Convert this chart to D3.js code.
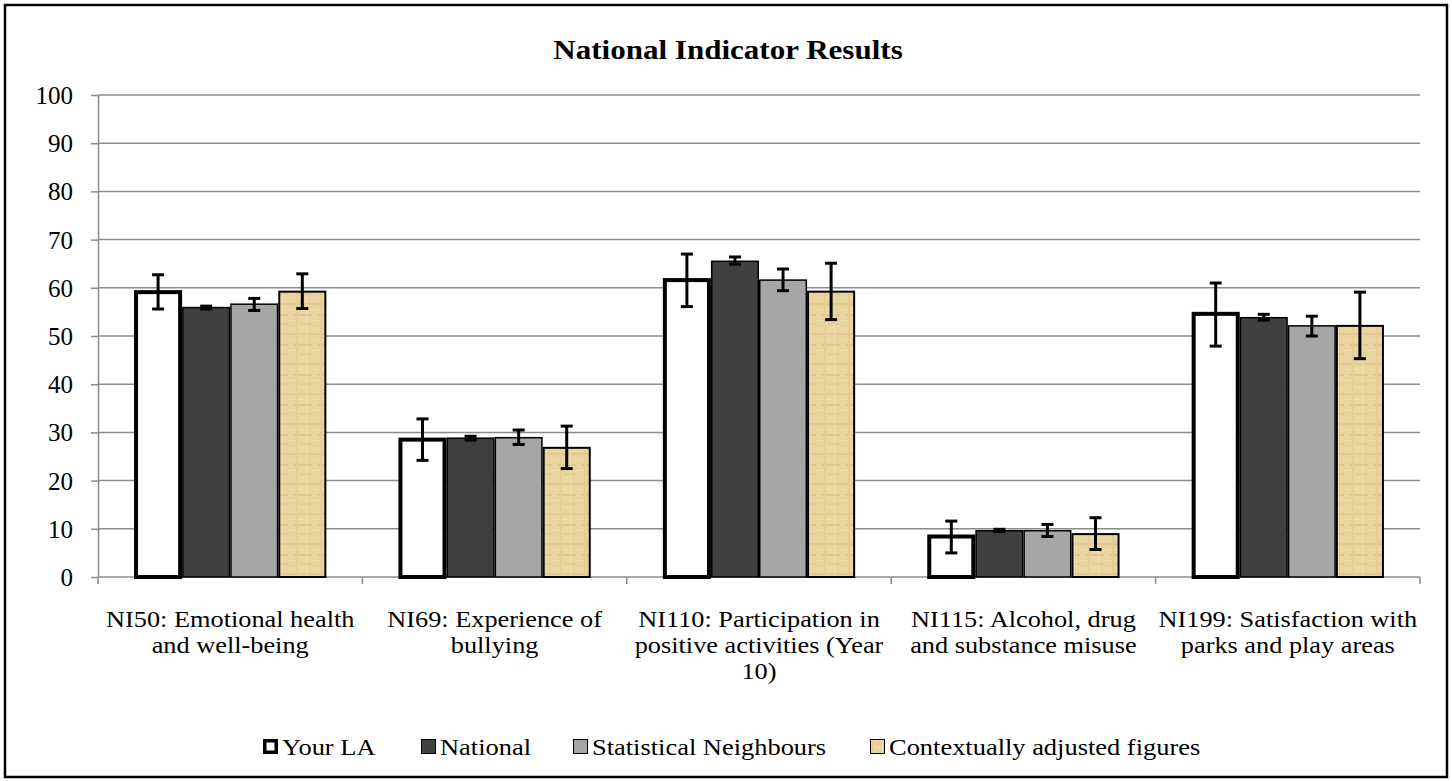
<!DOCTYPE html>
<html>
<head>
<meta charset="UTF-8">
<title>National Indicator Results</title>
<style>
    body { margin: 0; padding: 0; background: #fff; }
    svg { display: block; font-family: 'Liberation Serif', 'Times New Roman', serif; }
    .grid line { stroke: #8c8c8c; stroke-width: 1.5px; }
    .axis path, .axis line { stroke: #8c8c8c; stroke-width: 1.5px; }
</style>
</head>
<body>
<svg></svg>
<script src="https://cdn.jsdelivr.net/npm/d3@7"></script>
<script>

// chart data
let categories = [
    ["NI50: Emotional health", "and well-being"],
    ["NI69: Experience of", "bullying"],
    ["NI110: Participation in", "positive activities (Year", "10)"],
    ["NI115: Alcohol, drug", "and substance misuse"],
    ["NI199: Satisfaction with", "parks and play areas"]
];
let seriesNames = ["Your LA", "National", "Statistical Neighbours", "Contextually adjusted figures"];
let yourLA     = [59.1, 28.5, 61.6, 8.4, 54.6];
let national   = [55.9, 28.8, 65.5, 9.6, 53.8];
let statNeigh  = [56.6, 28.9, 61.6, 9.6, 52.1];
let contextual = [59.2, 26.8, 59.2, 8.9, 52.1];
// error bar ranges [low, high]
let yourLAErr     = [[55.6, 62.7], [24.2, 32.8], [56.1, 67.0], [5.0, 11.6], [47.9, 61.0]];
let nationalErr   = [[55.6, 56.2], [28.4, 29.2], [64.9, 66.4], [9.4, 9.9], [53.3, 54.5]];
let statNeighErr  = [[55.3, 57.8], [27.5, 30.5], [59.4, 63.9], [8.4, 10.9], [50.0, 54.1]];
let contextualErr = [[55.7, 62.9], [22.5, 31.3], [53.4, 65.1], [5.7, 12.3], [45.3, 59.1]];
let yTicks = [0, 10, 20, 30, 40, 50, 60, 70, 80, 90, 100];

let w = 1452, h = 781;
let plot = {left: 98, right: 1420, top: 95, bottom: 577};

let svg = d3.select("svg").attr("width", w).attr("height", h);

// tan texture for the last series
let defs = svg.append("defs");
let pat = defs.append("pattern")
    .attr("id", "tan")
    .attr("patternUnits", "userSpaceOnUse")
    .attr("width", 24).attr("height", 30);
pat.append("rect").attr("width", 24).attr("height", 30).attr("fill", "#eAd4a0");
[[0, 3, 24, 2, "#e2c98e"], [2, 9, 14, 1, "#f1dfb2"], [6, 14, 18, 2, "#e0c68a"],
 [0, 20, 10, 1, "#f0ddb0"], [12, 23, 12, 2, "#e4cb92"], [3, 27, 16, 1, "#efdcae"],
 [8, 0, 2, 30, "#e5cd95"], [18, 0, 1, 30, "#f0dcae"]].forEach(r => {
    pat.append("rect").attr("x", r[0]).attr("y", r[1]).attr("width", r[2]).attr("height", r[3]).attr("fill", r[4]);
});

// outer border
svg.append("rect")
    .attr("x", 5).attr("y", 5).attr("width", w - 10).attr("height", h - 9)
    .attr("fill", "#fff").attr("stroke", "#000").attr("stroke-width", 2.5);

// title (slightly stretched like the source picture)
svg.append("g")
    .attr("transform", "translate(728,59) scale(1.15,1)")
    .append("text")
    .attr("text-anchor", "middle")
    .attr("font-size", "27px").attr("font-weight", "bold")
    .text("National Indicator Results");

// scales
let x0 = d3.scaleBand()
    .domain(d3.range(categories.length))
    .range([plot.left, plot.right])
    .paddingInner(0).paddingOuter(0);
let x1 = d3.scaleBand()
    .domain(d3.range(seriesNames.length))
    .range([0, x0.bandwidth()])
    .paddingOuter(0.75).paddingInner(0);
let y = d3.scaleLinear().domain([0, 100]).range([plot.bottom, plot.top]);

// gridlines
svg.append("g").attr("class", "grid")
    .selectAll("line")
    .data(yTicks.filter(d => d > 0))
    .enter().append("line")
    .attr("x1", plot.left).attr("x2", plot.right)
    .attr("y1", d => y(d)).attr("y2", d => y(d));

// y axis
let yAxis = svg.append("g").attr("class", "axis")
    .attr("transform", `translate(${plot.left},0)`)
    .call(d3.axisLeft(y).tickValues(yTicks).tickSize(7).tickSizeOuter(0).tickPadding(18));
yAxis.attr("font-family", null).attr("font-size", null);
yAxis.selectAll("text").attr("font-size", "25px").attr("fill", "#000").attr("dy", "0.34em");

// x axis
let xAxis = svg.append("g").attr("class", "axis")
    .attr("transform", `translate(0,${plot.bottom})`);
xAxis.append("line")
    .attr("x1", plot.left).attr("x2", plot.right);
xAxis.selectAll(".tk")
    .data(d3.range(categories.length + 1))
    .enter().append("line")
    .attr("x1", d => plot.left + d * x0.bandwidth())
    .attr("x2", d => plot.left + d * x0.bandwidth())
    .attr("y1", 0).attr("y2", 7);

// category labels
categories.forEach((lines, i) => {
    let t = svg.append("g")
        .attr("transform", `translate(${x0(i) + x0.bandwidth() / 2},0) scale(1.17,1)`)
        .append("text")
        .attr("text-anchor", "middle")
        .attr("font-size", "22.5px");
    lines.forEach((ln, j) => {
        t.append("tspan")
            .attr("x", 0)
            .attr("y", 627 + j * 26)
            .text(ln);
    });
});

// series
let fills = ["#ffffff", "#404040", "#a6a6a6", "url(#tan)"];
let strokeW = [4, 1.5, 1.5, 2];
let values = [yourLA, national, statNeigh, contextual];
let errs = [yourLAErr, nationalErr, statNeighErr, contextualErr];

let bars = [];
values.forEach((vals, s) => {
    vals.forEach((v, i) => bars.push({s: s, i: i, v: v, err: errs[s][i]}));
});

svg.append("g")
    .selectAll("rect")
    .data(bars)
    .enter().append("rect")
    .attr("x", d => x0(d.i) + x1(d.s) + strokeW[d.s] / 2)
    .attr("width", d => x1.bandwidth() - strokeW[d.s])
    .attr("y", d => y(d.v))
    .attr("height", d => y(0) - y(d.v))
    .attr("fill", d => fills[d.s])
    .attr("stroke", "#000")
    .attr("stroke-width", d => strokeW[d.s]);

// error bars
let gErr = svg.append("g").attr("stroke", "#000").attr("stroke-width", 3);
bars.forEach(d => {
    let cx = x0(d.i) + x1(d.s) + x1.bandwidth() / 2;
    gErr.append("line").attr("x1", cx).attr("x2", cx).attr("y1", y(d.err[0])).attr("y2", y(d.err[1]));
    gErr.append("line").attr("x1", cx - 6).attr("x2", cx + 6).attr("y1", y(d.err[0])).attr("y2", y(d.err[0]));
    gErr.append("line").attr("x1", cx - 6).attr("x2", cx + 6).attr("y1", y(d.err[1])).attr("y2", y(d.err[1]));
});

// legend
let legendX = [263, 421, 573, 870];
let legend = svg.append("g");
seriesNames.forEach((name, s) => {
    let sw = s === 0 ? 3.5 : 1;
    legend.append("rect")
        .attr("x", legendX[s] + sw / 2).attr("y", 739 + sw / 2)
        .attr("width", 15 - sw).attr("height", 15 - sw)
        .attr("fill", fills[s])
        .attr("stroke", "#000").attr("stroke-width", sw);
    legend.append("g")
        .attr("transform", `translate(${legendX[s] + 19},755) scale(1.15,1)`)
        .append("text")
        .attr("font-size", "23px")
        .text(name);
});

</script>
</body>
</html>
